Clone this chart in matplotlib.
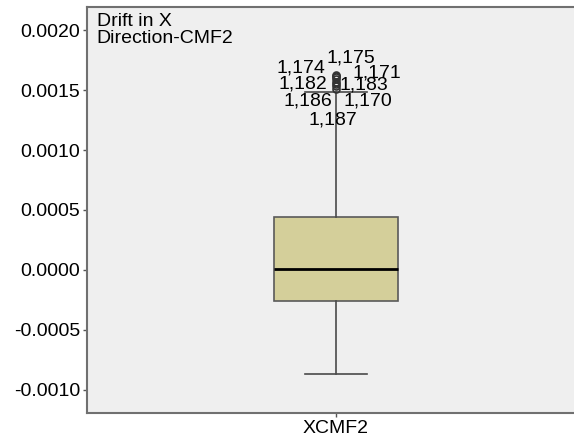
import numpy as np
import matplotlib.pyplot as plt

plt.rcParams['font.family'] = ['Liberation Sans', 'DejaVu Sans']

# summary statistics of the drift series
q1, med, q3 = -0.000255, 0.000010, 0.000442
whisk_lo, whisk_hi = -0.000865, 0.001480
out_ids = ['1,174', '1,175', '1,171', '1,182', '1,183', '1,186', '1,170', '1,187']
out_vals = [0.001620, 0.001625, 0.001610, 0.001590, 0.001570, 0.001550, 0.001530, 0.001510]
# label shifts in pixels so the case numbers don't pile up
label_offsets = [(-35, 8), (15, 17), (41, 4), (-33, -5), (28, -3), (-28, -17), (32, -15), (-3, -31)]

fig = plt.figure(figsize=(5.74, 4.41), dpi=100)
ax = fig.add_axes([87 / 574, 28 / 441, 1 - 87 / 574 + 0.01, 406 / 441])
ax.set_facecolor('#efefef')

stats = [dict(med=med, q1=q1, q3=q3, whislo=whisk_lo, whishi=whisk_hi,
              fliers=out_vals, label='XCMF2')]
ax.bxp(stats, positions=[1], widths=0.5, patch_artist=True,
       boxprops=dict(facecolor='#d4cf9a', edgecolor='#5a5a5a', linewidth=1.2),
       medianprops=dict(color='black', linewidth=2),
       whiskerprops=dict(color='#4a4a4a', linewidth=1.2),
       capprops=dict(color='#4a4a4a', linewidth=1.2),
       capwidths=0.25,
       flierprops=dict(marker='o', markersize=5, markerfacecolor='none',
                       markeredgecolor='#333333', markeredgewidth=1.2))

for lab, v, (dx, dy) in zip(out_ids, out_vals, label_offsets):
    ax.annotate(lab, (1, v), xytext=(dx, dy), textcoords='offset pixels',
                ha='center', va='center', fontsize=14, color='black')

ax.set_xlim(0.0, 1.98)
ax.set_ylim(-0.0011917, 0.0021917)
ax.set_yticks([-0.0010, -0.0005, 0.0, 0.0005, 0.0010, 0.0015, 0.0020])
ax.set_yticklabels(['-0.0010', '-0.0005', '0.0000', '0.0005', '0.0010', '0.0015', '0.0020'])
ax.tick_params(axis='both', labelsize=14, colors='#555555', labelcolor='black',
               length=3, width=1, pad=2)

for side in ['left', 'bottom', 'top']:
    ax.spines[side].set_color('#707070')
    ax.spines[side].set_linewidth(1.5)
ax.spines['right'].set_visible(False)

ax.text(0.02, 0.985, 'Drift in X\nDirection-CMF2', transform=ax.transAxes,
        ha='left', va='top', fontsize=14, linespacing=1.0)

fig.savefig('out.png', dpi=100)
